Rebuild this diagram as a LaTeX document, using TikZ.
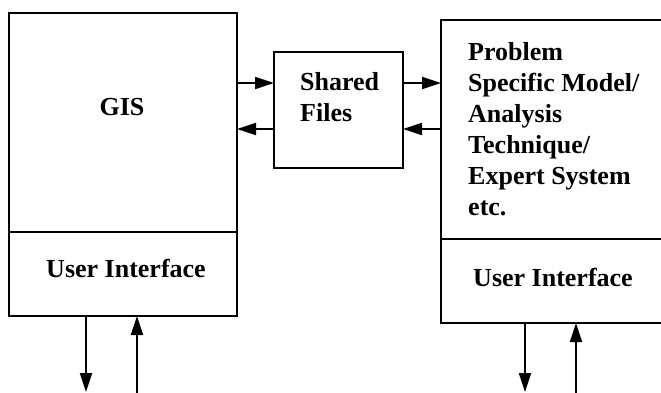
\documentclass[tikz,border=0pt]{standalone}
\usepackage{fontspec}
\setmainfont{Liberation Serif}
\usetikzlibrary{arrows.meta}
\tikzset{
  block/.style={draw, line width=2.6pt, inner sep=0pt, outer sep=0pt, anchor=north west},
  lbl/.style={inner sep=0pt, font=\fontsize{26}{31}\selectfont\bfseries},
  flow/.style={line width=2.1pt, -{Triangle[length=19pt,width=12pt]}}
}
\begin{document}
\begin{tikzpicture}[x=1pt,y=-1pt]
  \useasboundingbox (0,0) rectangle (661,393);
  \clip (0,0) rectangle (661,393);

  % GIS with its user interface
  \node[block, minimum width=228pt, minimum height=219pt] (gis) at (9,13) {};
  \node[block, minimum width=228pt, minimum height=84pt] (gisui) at (9,232) {};
  \node[lbl] (gistxt) at (122,107) {GIS};
  \node[lbl] (gisuitxt) at (126,268) {User Interface};

  % shared files between the two systems
  \node[block, minimum width=129pt, minimum height=116pt] (shared) at (274,52) {};
  \node[lbl, anchor=north west, align=left] (sharedtxt) at (300,72.5) {Shared\\Files};

  % model / analysis system with its user interface (runs past the right edge)
  \node[block, minimum width=260pt, minimum height=219pt] (model) at (441,20) {};
  \node[block, minimum width=260pt, minimum height=84pt] (modelui) at (441,239) {};
  \node[lbl, anchor=north west, align=left] (modeltxt) at (468,42.5)
    {Problem\\Specific Model/\\Analysis\\Technique/\\Expert System\\etc.};
  \node[lbl] (modeluitxt) at (553,277) {User Interface};

  % exchange rows
  \coordinate (rowa) at (0,83);
  \coordinate (rowb) at (0,129);
  \draw[flow] (gis.east |- rowa) -- (shared.west |- rowa);
  \draw[flow] (shared.west |- rowb) -- (gis.east |- rowb);
  \draw[flow] (shared.east |- rowa) -- (model.west |- rowa);
  \draw[flow] (model.west |- rowb) -- (shared.east |- rowb);

  % user input / output
  \coordinate (gisout) at (86,392);
  \coordinate (gisin) at (137,393);
  \coordinate (modelout) at (525,392);
  \coordinate (modelin) at (576,393);
  \draw[flow] (gisui.south -| gisout) -- (gisout);
  \draw[flow] (gisin) -- (gisui.south -| gisin);
  \draw[flow] (modelui.south -| modelout) -- (modelout);
  \draw[flow] (modelin) -- (modelui.south -| modelin);
\end{tikzpicture}
\end{document}
